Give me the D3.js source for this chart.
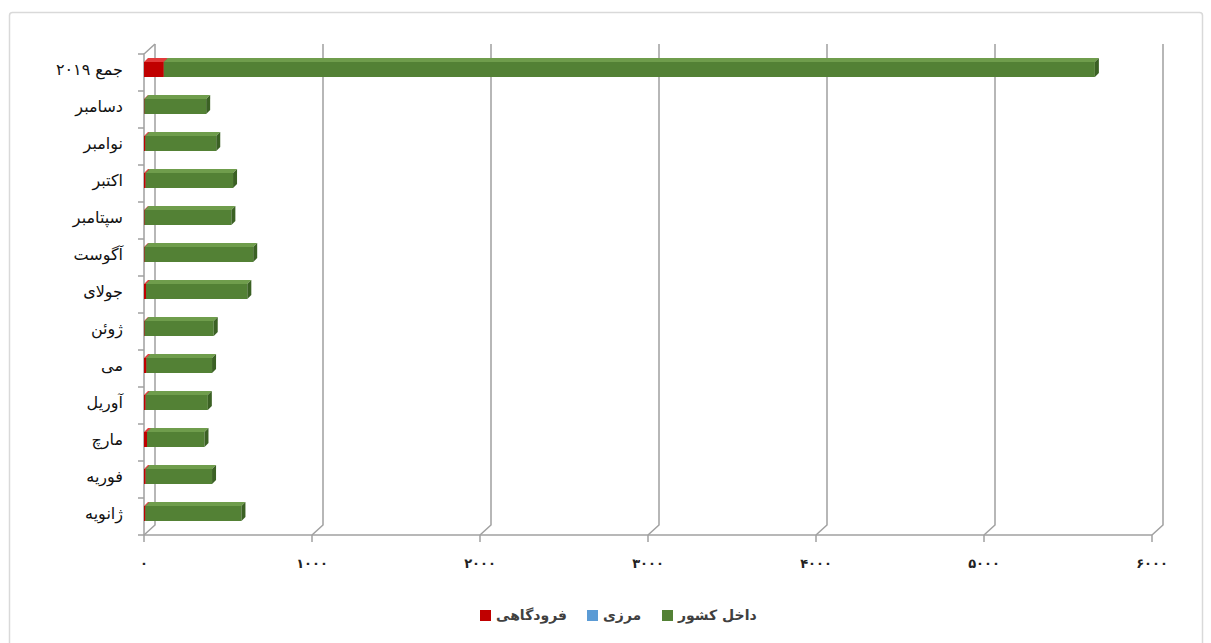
<!DOCTYPE html>
<html><head><meta charset="utf-8">
<script src="https://cdn.jsdelivr.net/npm/d3@7"></script>
<style>html,body{margin:0;padding:0;background:#fff;}svg{display:block;}</style>
</head><body>
<svg id="chart" width="1211" height="643"></svg>
<script>
const categories = ["جمع ۲۰۱۹","دسامبر","نوامبر","اکتبر","سپتامبر","آگوست","جولای","ژوئن","می","آوریل","مارچ","فوریه","ژانویه"];
const airportValues  = [118, 3, 8, 10, 4, 4, 12, 4, 14, 10, 18, 10, 8];      // فرودگاهی
const borderValues   = [0, 0, 0, 0, 0, 0, 0, 0, 0, 0, 0, 0, 0];               // مرزی
const domesticValues = [5542, 367, 422, 520, 516, 646, 603, 411, 391, 370, 342, 395, 572]; // داخل کشور
const seriesNames = ["فرودگاهی","مرزی","داخل کشور"];
const tickValues = [0, 1000, 2000, 3000, 4000, 5000, 6000];
const tickLabels = ["۰","۱۰۰۰","۲۰۰۰","۳۰۰۰","۴۰۰۰","۵۰۰۰","۶۰۰۰"];

const svg = d3.select("#chart");
const FONT = "'DejaVu Sans', sans-serif";
const DX = 11, DY = -10;

// outer frame
svg.append("rect").attr("x", 9.5).attr("y", 12.5).attr("width", 1193).attr("height", 640)
  .attr("rx", 3).attr("fill", "#fff").attr("stroke", "#d9d9d9").attr("stroke-width", 1.5);

const x = d3.scaleLinear().domain([0, 6000]).range([144, 1152]);
const y = d3.scaleBand().domain(categories).range([54, 535]).padding(0);
const baseY = 535;
const topY = 54;
const grid = "#a0a0a0";

const g = svg.append("g");
tickValues.forEach(v => {
  const xf = x(v);
  g.append("path")
    .attr("d", `M${xf + DX},${topY + DY} L${xf + DX},${baseY + DY} L${xf},${baseY}`)
    .attr("fill", "none").attr("stroke", grid).attr("stroke-width", 1.5);
  g.append("line").attr("x1", xf).attr("x2", xf).attr("y1", baseY).attr("y2", baseY + 7)
    .attr("stroke", grid).attr("stroke-width", 1.5);
});
g.append("path")
  .attr("d", `M${x(0)},${baseY} L${x(0)},${topY} L${x(0) + DX},${topY + DY}`)
  .attr("fill", "none").attr("stroke", grid).attr("stroke-width", 1.5);
g.append("line").attr("x1", x(0) - 6).attr("x2", x(6000)).attr("y1", baseY).attr("y2", baseY)
  .attr("stroke", grid).attr("stroke-width", 1.5);
categories.forEach(c => {
  g.append("line").attr("x1", x(0) - 6).attr("x2", x(0)).attr("y1", y(c)).attr("y2", y(c))
    .attr("stroke", grid).attr("stroke-width", 1.5);
});

const palettes = [
  {front: "#c00000", top: "#e23a3a", side: "#8c0000"},
  {front: "#5b9bd5", top: "#85b6e2", side: "#3f7cb3"},
  {front: "#538135", top: "#6f9d4c", side: "#3b6124"}
];
const seriesData = [airportValues, borderValues, domesticValues];
const bh = 15, d = 4;
const barG = svg.append("g");
categories.forEach((c, i) => {
  let cum = 0;
  const yf = y(c) + 8;
  seriesData.forEach((vals, s) => {
    const v = vals[i];
    if (v <= 0) return;
    const x0 = x(cum), x1 = x(cum + v);
    cum += v;
    const p = palettes[s];
    barG.append("rect").attr("x", x0).attr("y", yf).attr("width", x1 - x0).attr("height", bh).attr("fill", p.front);
    barG.append("path").attr("d", `M${x0},${yf} L${x0 + d},${yf - d} L${x1 + d},${yf - d} L${x1},${yf} Z`).attr("fill", p.top);
    barG.append("path").attr("d", `M${x1},${yf} L${x1 + d},${yf - d} L${x1 + d},${yf + bh - d} L${x1},${yf + bh} Z`).attr("fill", p.side);
  });
});

svg.append("g").selectAll("text").data(categories).join("text")
  .attr("x", 123).attr("y", c => y(c) + y.bandwidth() / 2 - 2)
  .attr("text-anchor", "end").attr("dominant-baseline", "middle")
  .attr("font-family", FONT).attr("font-size", 16).attr("fill", "#111")
  .text(c => c);

svg.append("g").selectAll("text").data(tickValues).join("text")
  .attr("x", v => x(v)).attr("y", 564)
  .attr("text-anchor", "middle").attr("dominant-baseline", "middle")
  .attr("font-family", FONT).attr("font-size", 13).attr("font-weight", "bold").attr("fill", "#222")
  .text((v, i) => tickLabels[i]);

const legendItems = [
  {name: seriesNames[0], color: palettes[0].front, sx: 480},
  {name: seriesNames[1], color: palettes[1].front, sx: 587},
  {name: seriesNames[2], color: palettes[2].front, sx: 662}
];
const lg = svg.append("g");
legendItems.forEach(it => {
  lg.append("rect").attr("x", it.sx).attr("y", 610).attr("width", 11).attr("height", 11).attr("fill", it.color);
  lg.append("text").attr("x", it.sx + 16).attr("y", 616).attr("text-anchor", "start")
    .attr("dominant-baseline", "middle").attr("font-family", FONT).attr("font-size", 14)
    .attr("font-weight", "bold").attr("fill", "#404040").text(it.name);
});
</script>
</body></html>
